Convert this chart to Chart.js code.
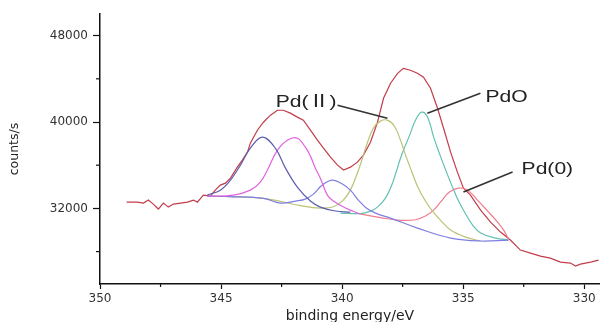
<!DOCTYPE html>
<html>
<head>
<meta charset="utf-8">
<script src="https://cdn.jsdelivr.net/npm/chart.js@4.4.0/dist/chart.umd.min.js"></script>
<style>
  html, body { margin: 0; padding: 0; background: #fff; }
  #wrap { width: 600px; height: 322px; }
</style>
</head>
<body>
<div id="wrap"><canvas id="xpsChart" width="600" height="322"></canvas></div>
<script>
// measured spectrum (binding energy in eV, counts/s)
var rawEnergy = [348.9,348.46,348.21,348.0,347.8,347.59,347.38,347.18,346.97,346.68,346.39,346.14,345.98,345.73,345.44,345.24,345.03,344.82,344.61,344.33,344.12,343.91,343.79,343.5,343.25,342.96,342.67,342.43,342.14,341.85,341.6,341.31,341.02,340.77,340.48,340.19,339.94,339.66,339.37,339.12,338.83,338.54,338.29,338.0,337.71,337.47,337.18,336.89,336.64,336.35,336.06,335.81,335.52,335.24,334.99,334.7,334.28,333.87,333.46,333.05,332.64,332.22,331.81,331.4,330.98,330.57,330.36,330.16,329.74,329.41];
var rawCounts = [32580,32580,32490,32770,32400,31940,32490,32120,32400,32490,32580,32770,32580,33230,33140,33690,34160,34340,34800,35820,36470,37210,38040,39240,39980,40630,41090,41090,40820,40450,40170,39240,38320,37580,36750,36010,35550,35820,36280,36930,38130,39980,42200,43590,44510,44970,44790,44510,44140,43130,41270,39420,37210,35360,33880,33230,31840,30730,29810,29070,28140,27860,27580,27400,27030,26940,26660,26840,27030,27210];

// fitted components
var peak1Energy = [345.57,345.03,344.61,344.2,343.79,343.29,342.76,342.34,341.85,341.31,340.9,340.28,339.66];
var peak1Counts = [33230,33690,34620,36010,37580,38600,37580,35730,33970,32680,32120,31760,31650];

var peak2Energy = [345.57,344.49,343.79,343.38,343.09,342.67,342.26,341.85,341.52,341.31,341.1,340.9,340.61,340.36,339.86,339.24];
var peak2Counts = [33140,33230,33690,34430,35540,37390,38320,38500,37670,36840,35700,34800,33230,32680,32030,31470];

var peak3Energy = [345.57,344.61,343.25,342.55,341.93,341.52,341.19,340.82,340.4,339.99,339.66,339.33,339.0,338.62,338.0,336.89,335.52,334.28,333.13];
var peak3Counts = [33140,33090,32925,32490,32680,32860,33320,34160,34620,34250,33690,32770,32030,31560,31100,30180,29250,28980,29070];

var peak4Energy = [345.57,344.61,343.25,341.72,340.89,340.36,339.95,339.66,339.37,339.16,338.95,338.71,338.42,338.13,337.84,337.59,337.38,337.18,336.89,336.56,336.27,335.94,335.52,334.9,334.28];
var peak4Counts = [33140,33090,32925,32260,32030,32150,32770,33690,35270,36650,38130,39430,40080,40170,39610,38320,36930,35730,34060,32680,31750,30920,29990,29340,28980];

var peak5Energy = [340.07,339.24,338.83,338.54,338.21,337.92,337.59,337.38,337.18,336.97,336.72,336.47,336.22,335.94,335.69,335.44,335.19,334.9,334.61,334.28,333.66,333.13];
var peak5Counts = [31570,31520,31750,32120,32950,34340,36650,37860,38970,40170,40910,40450,38600,36840,35360,33970,32680,31480,30460,29720,29250,29070];

var peak6Energy = [339.24,338.42,337.59,336.97,336.56,336.22,335.9,335.57,335.19,334.82,334.41,333.99,333.58,333.33,333.13];
var peak6Counts = [31470,31150,30900,30950,31290,31840,32680,33510,33880,33690,32770,31750,30730,29990,29160];

// axis ticks
var xTicks = [330,332.5,335,337.5,340,342.5,345,347.5,350];
var xLabelled = [330,335,340,345,350];
var yTicks = [28000,32000,36000,40000,44000,48000];
var yLabelled = [32000,40000,48000];

// peak labels and their leader lines
var peakLabels = ['Pd(Ⅱ)','PdO','Pd(0)'];
var leaderStartEnergy = [340.19,334.29,332.96];
var leaderStartCounts = [41555,42665,35360];
var leaderEndEnergy = [338.13,336.48,334.99];
var leaderEndCounts = [40350,40815,33510];

function pts(xs, ys) {
  return xs.map(function(x, i) { return {x: x, y: ys[i]}; });
}

function comp(data, color) {
  return {
    data: data,
    borderColor: color,
    borderWidth: 1.2,
    pointRadius: 0,
    fill: false,
    tension: 0.4
  };
}

var minorTicks = {
  id: 'minorTicks',
  afterDraw: function(chart) {
    var ctx = chart.ctx, xs = chart.scales.x, ys = chart.scales.y;
    ctx.save();
    ctx.strokeStyle = '#111';
    ctx.lineWidth = 1.2;
    xTicks.forEach(function(v) {
      if (xLabelled.indexOf(v) >= 0) return;
      var px = xs.getPixelForValue(v);
      ctx.beginPath();
      ctx.moveTo(px, chart.chartArea.bottom);
      ctx.lineTo(px, chart.chartArea.bottom + 3);
      ctx.stroke();
    });
    yTicks.forEach(function(v) {
      if (yLabelled.indexOf(v) >= 0) return;
      var py = ys.getPixelForValue(v);
      ctx.beginPath();
      ctx.moveTo(chart.chartArea.left - 4, py);
      ctx.lineTo(chart.chartArea.left, py);
      ctx.stroke();
    });
    ctx.restore();
  }
};

var labelStyle = [
  {align: 'right', dx: -1, dy: -2.5},
  {align: 'left', dx: 5, dy: 4},
  {align: 'left', dx: 9, dy: -3}
];

var peakNotes = {
  id: 'peakNotes',
  afterDatasetsDraw: function(chart) {
    var ctx = chart.ctx, xs = chart.scales.x, ys = chart.scales.y;
    ctx.save();
    peakLabels.forEach(function(txt, i) {
      var x0 = xs.getPixelForValue(leaderStartEnergy[i]);
      var y0 = ys.getPixelForValue(leaderStartCounts[i]);
      var x1 = xs.getPixelForValue(leaderEndEnergy[i]);
      var y1 = ys.getPixelForValue(leaderEndCounts[i]);
      ctx.strokeStyle = '#333';
      ctx.lineWidth = 1.6;
      ctx.beginPath();
      ctx.moveTo(x0, y0);
      ctx.lineTo(x1, y1);
      ctx.stroke();

      var st = labelStyle[i];
      ctx.translate(x0 + st.dx, y0 + st.dy);
      ctx.scale(1.24, 1);
      ctx.fillStyle = '#222';
      ctx.font = '17px "Liberation Sans", "Noto Sans CJK SC", sans-serif';
      ctx.textAlign = st.align;
      ctx.textBaseline = 'middle';
      ctx.fillText(txt, 0, 0);
      ctx.setTransform(1, 0, 0, 1, 0, 0);
    });
    ctx.restore();
  }
};

var tickFont = {family: '"DejaVu Sans", sans-serif', size: 12};

new Chart(document.getElementById('xpsChart').getContext('2d'), {
  type: 'line',
  data: {
    datasets: [
      comp(pts(peak1Energy, peak1Counts), '#5c5cae'),
      comp(pts(peak2Energy, peak2Counts), '#e062e0'),
      comp(pts(peak3Energy, peak3Counts), '#7e7ee2'),
      comp(pts(peak4Energy, peak4Counts), '#bcc274'),
      comp(pts(peak5Energy, peak5Counts), '#62c0b2'),
      comp(pts(peak6Energy, peak6Counts), '#f27c8a'),
      {
        data: pts(rawEnergy, rawCounts),
        borderColor: '#c23c4a',
        borderWidth: 1.2,
        pointRadius: 0,
        fill: false,
        tension: 0
      }
    ]
  },
  options: {
    responsive: false,
    animation: false,
    layout: {padding: {top: 14, right: 0, left: 0, bottom: 0}},
    plugins: {legend: {display: false}, tooltip: {enabled: false}},
    scales: {
      x: {
        type: 'linear',
        reverse: true,
        min: 329.35,
        max: 350,
        afterFit: function(s) { s.height = 38; },
        afterBuildTicks: function(s) { s.ticks = xTicks.map(function(v) { return {value: v}; }); },
        border: {display: true, color: '#111', width: 1.5},
        grid: {
          display: true,
          drawOnChartArea: false,
          drawTicks: true,
          tickLength: 5,
          tickWidth: 1.2,
          tickColor: function(c) { return xLabelled.indexOf(c.tick.value) >= 0 ? '#111' : 'rgba(0,0,0,0)'; }
        },
        ticks: {
          autoSkip: false,
          maxRotation: 0,
          padding: 3,
          color: '#333',
          font: tickFont,
          callback: function(v) { return xLabelled.indexOf(v) >= 0 ? String(v) : ''; }
        },
        title: {
          display: true,
          text: 'binding energy/eV',
          color: '#222',
          font: {family: '"DejaVu Sans", sans-serif', size: 14, lineHeight: 1},
          padding: {top: 0, bottom: -1}
        }
      },
      y: {
        type: 'linear',
        min: 25000,
        max: 50000,
        afterFit: function(s) { s.width = 100; },
        afterBuildTicks: function(s) { s.ticks = yTicks.map(function(v) { return {value: v}; }); },
        border: {display: true, color: '#111', width: 1.5},
        grid: {
          display: true,
          drawOnChartArea: false,
          drawTicks: true,
          tickLength: 7,
          tickWidth: 1.2,
          tickColor: function(c) { return yLabelled.indexOf(c.tick.value) >= 0 ? '#111' : 'rgba(0,0,0,0)'; }
        },
        ticks: {
          autoSkip: false,
          padding: 5,
          color: '#333',
          font: tickFont,
          callback: function(v) { return yLabelled.indexOf(v) >= 0 ? String(v) : ''; }
        },
        title: {
          display: true,
          text: 'counts/s',
          color: '#222',
          font: {family: '"DejaVu Sans", sans-serif', size: 12.5, lineHeight: 1.2},
          padding: {top: 7.5, bottom: 0}
        }
      }
    }
  },
  plugins: [minorTicks, peakNotes]
});
</script>
</body>
</html>
